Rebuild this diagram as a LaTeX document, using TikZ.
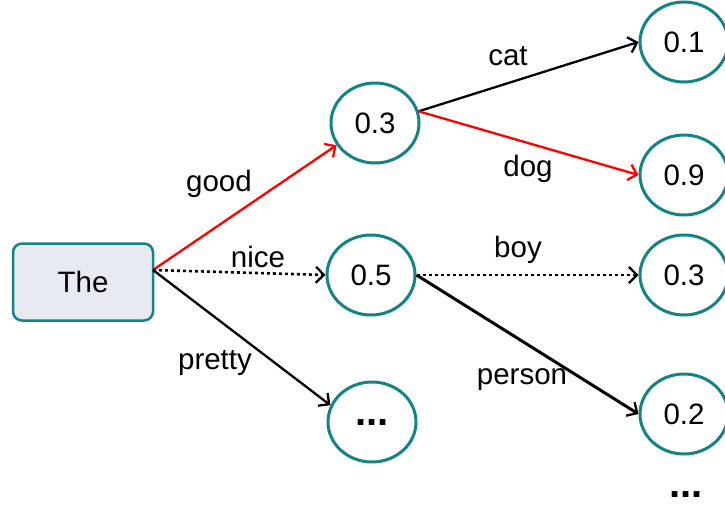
\documentclass[tikz,border=0pt]{standalone}
\usepackage{fontspec}
\setmainfont{Liberation Sans}
\usetikzlibrary{arrows.meta,shapes.geometric}
\definecolor{teal1}{RGB}{18,132,132}
\definecolor{boxfill}{RGB}{232,234,242}
\begin{document}
\begin{tikzpicture}[x=1pt,y=-1pt,
  font=\fontsize{29.5}{32}\selectfont,
  prob/.style={draw=teal1,line width=3pt,ellipse,minimum width=88pt,minimum height=80pt,inner sep=0pt},
  startbox/.style={draw=teal1,fill=boxfill,line width=2.5pt,rounded corners=9pt,minimum width=140pt,minimum height=77pt},
  edge/.style={line width=2.3pt,-{Straight Barb[length=8pt,width=16pt,line width=2.3pt]}},
  dottededge/.style={edge,dash pattern=on 3pt off 3pt,line width=2.6pt},
  bigdots/.style={font=\fontsize{40}{40}\selectfont\bfseries},
  lbl/.style={inner sep=0pt,anchor=center}]
\useasboundingbox (0,0) rectangle (725,506);
\node[startbox] (the) at (83,282) {The};
\coordinate (tp) at (153,270);
\node[prob] (n03) at (375,123) {0.3};
\node[prob] (n05) at (371,275) {0.5};
\node[prob,bigdots,text height=6pt,text depth=0pt] (ndots) at (372,422) {...};
\node[prob] (n01) at (684,42) {0.1};
\node[prob] (n09) at (684,175) {0.9};
\node[prob] (n03r) at (684,275) {0.3};
\node[prob] (n02) at (684,414) {0.2};
\node[bigdots,inner sep=0pt,text height=6pt,text depth=0pt,anchor=base] (more) at (686,497) {...};
\draw[edge,red] (tp) -- (n03.210);
\draw[dottededge] (tp) -- (n05.west);
\draw[edge] (tp) -- (ndots.158);
\draw[edge] (n03.15) -- (n01.west);
\draw[edge,red] (n03.15) -- (n09.west);
\draw[dottededge] (n05.east) -- (n03r.west);
\draw[edge,line width=3pt] (n05.east) -- (n02.west);
\node[lbl] (lgood) at (219,184) {good};
\node[lbl] (lnice) at (258,257) {nice};
\node[lbl] (lpretty) at (215,363) {pretty};
\node[lbl] (lcat) at (508,56) {cat};
\node[lbl] (ldog) at (528,169) {dog};
\node[lbl] (lboy) at (518,250) {boy};
\node[lbl] (lperson) at (522,380) {person};
\end{tikzpicture}
\end{document}
